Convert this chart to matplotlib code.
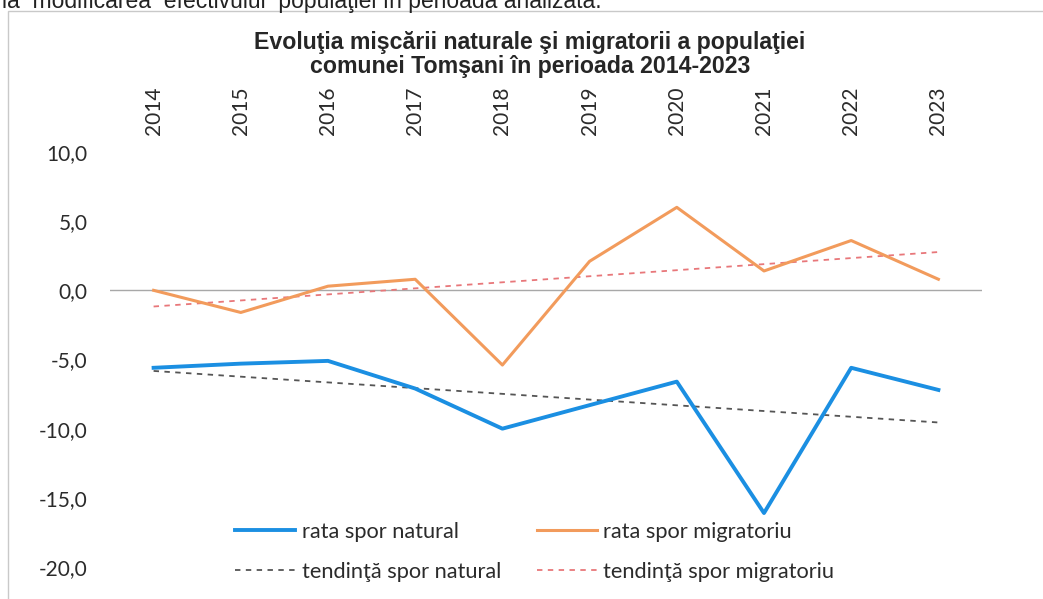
import numpy as np
import matplotlib.pyplot as plt
from matplotlib.patches import Rectangle
from matplotlib.ticker import FuncFormatter

# date
ani = ['2014', '2015', '2016', '2017', '2018', '2019', '2020', '2021', '2022', '2023']
spor_natural = [-5.6, -5.3, -5.1, -7.1, -10.0, -8.3, -6.6, -16.1, -5.6, -7.2]
spor_migratoriu = [0.0, -1.6, 0.3, 0.8, -5.4, 2.1, 6.0, 1.4, 3.6, 0.8]
y_ticks = [10, 5, 0, -5, -10, -15, -20]

x = np.arange(len(ani))

# linii de tendinta (liniare, ca in Excel)
tend_nat = np.polyval(np.polyfit(x, spor_natural, 1), x)
tend_mig = np.polyval(np.polyfit(x, spor_migratoriu, 1), x)

fig = plt.figure(figsize=(10.43, 5.99), dpi=100)
ax = fig.add_axes([110 / 1043, 1 - 567 / 599, 872 / 1043, 415 / 599])

# rama graficului (scanata)
fig.patches.append(Rectangle((8 / 1043, -0.05), 1.1, 1 - 11 / 599 + 0.05, transform=fig.transFigure,
                             fill=False, edgecolor='#c9c9c9', linewidth=1.0))

# textul taiat de deasupra
fig.text(2 / 1043, 1 - 8 / 599, 'la  modificarea  efectivului  populaţiei în perioada analizată.',
         fontsize=16.5, family='Liberation Sans', color='#222222', va='baseline', ha='left')

ax.axhline(0, color='#a8a8a8', linewidth=1.0, zorder=1)

l1, = ax.plot(x, spor_natural, color='#1b8fe2', linewidth=2.8, label='rata spor natural', zorder=4)
l2, = ax.plot(x, spor_migratoriu, color='#f29b5c', linewidth=2.2, label='rata spor migratoriu', zorder=3)
l3, = ax.plot(x, tend_nat, color='#555555', linewidth=1.3, linestyle=(0, (3, 3)),
              label='tendinţă spor natural', zorder=2)
l4, = ax.plot(x, tend_mig, color='#e8777a', linewidth=1.3, linestyle=(0, (3, 3)),
              label='tendinţă spor migratoriu', zorder=2)

ax.set_xlim(-0.5, len(ani) - 0.5)
ax.set_ylim(-20, 10)
ax.set_yticks(y_ticks)
ax.yaxis.set_major_formatter(FuncFormatter(lambda v, p: f'{v:.1f}'.replace('.', ',')))
ax.set_xticks(x)
ax.set_xticklabels(ani, rotation=90)
ax.tick_params(axis='x', top=True, bottom=False, labeltop=True, labelbottom=False,
               length=0, pad=12)
ax.tick_params(axis='y', length=0, pad=16)
for lab in ax.get_xticklabels() + ax.get_yticklabels():
    lab.set_family('Lato')
    lab.set_fontsize(15)
    lab.set_color('#2b2b2b')

for s in ax.spines.values():
    s.set_visible(False)

fig.text(530 / 1043, 1 - 42 / 599, 'Evoluţia mişcării naturale şi migratorii a populaţiei',
         fontsize=16.7, fontweight='bold', family='Liberation Sans', color='#262626',
         ha='center', va='center')
fig.text(530 / 1043, 1 - 67 / 599, 'comunei Tomşani în perioada 2014-2023',
         fontsize=16.7, fontweight='bold', family='Liberation Sans', color='#262626',
         ha='center', va='center')

# ordinea pe coloane: randul 1 = rate, randul 2 = tendinte
leg = fig.legend(handles=[l1, l3, l2, l4], ncol=2, loc='center left',
                 bbox_to_anchor=(235 / 1043, 1 - 552 / 599), frameon=False,
                 prop={'family': 'Lato', 'size': 15.7}, handlelength=2.75, handletextpad=0.3,
                 columnspacing=1.65, labelspacing=0.92, borderpad=0, borderaxespad=0)
for t in leg.get_texts():
    t.set_color('#2b2b2b')

fig.savefig('out.png', dpi=100)
plt.close()
